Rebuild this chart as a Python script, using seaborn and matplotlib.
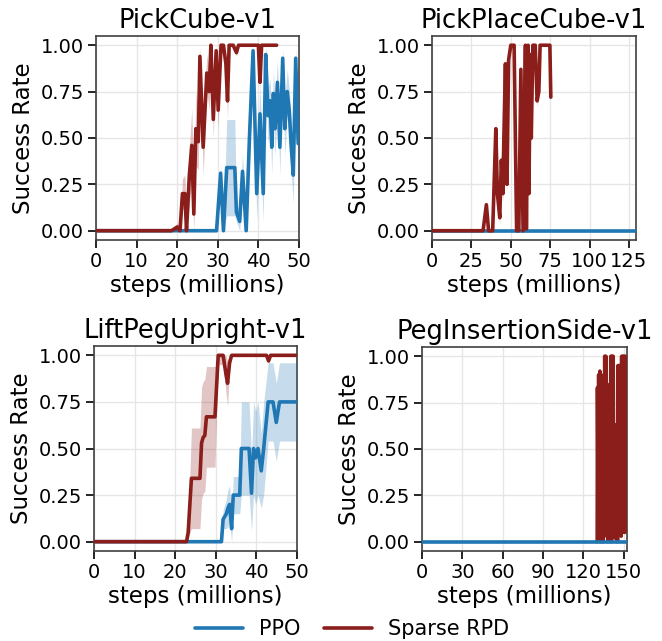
import numpy as np
import matplotlib
matplotlib.use("Agg")
import matplotlib.pyplot as plt
from matplotlib.lines import Line2D
import seaborn as sns

# cores das curvas
COR_PPO = "#1f77b4"
COR_RPD = "#8b1e1a"

titulos = ["PickCube-v1", "PickPlaceCube-v1", "LiftPegUpright-v1", "PegInsertionSide-v1"]
limites_x = [50, 129.5, 50, 152.4]
ticks_x = [[0, 10, 20, 30, 40, 50],
           [0, 25, 50, 75, 100, 125],
           [0, 10, 20, 30, 40, 50],
           [0, 30, 60, 90, 120, 150]]
ticks_y = [0.0, 0.25, 0.5, 0.75, 1.0]

# ---- PickCube-v1 ----
pick_rpd_x = [0, 18.6, 20.0, 20.7, 21.3, 21.9, 22.3, 23.0, 23.6, 24.1, 24.6, 25.2, 25.6, 26.4,
              27.3, 27.9, 28.3, 28.9, 29.6, 30.1, 30.8, 31.4, 32.0, 32.4, 32.8, 33.8, 34.6,
              35.1, 40.0, 40.4, 40.8, 44.5]
pick_rpd_y = [0, 0, 0.02, 0.0, 0.2, 0.2, 0.0, 0.3, 0.46, 0.09, 0.55, 0.48, 0.94, 0.45,
              0.85, 0.75, 1.0, 0.6, 0.97, 0.65, 1.0, 1.0, 0.9, 0.7, 1.0, 1.0, 0.96,
              1.0, 1.0, 0.8, 1.0, 1.0]
pick_rpd_hw = [0, 0, 0.02, 0.02, 0.08, 0.1, 0.1, 0.15, 0.2, 0.15, 0.2, 0.15, 0.05, 0.15,
               0.1, 0.1, 0, 0.1, 0.05, 0.1, 0, 0, 0.05, 0.1, 0, 0, 0.02,
               0, 0, 0.05, 0, 0]
pick_ppo_x = [0, 29.7, 30.7, 31.4, 32.2, 34.2, 34.6, 35.4, 36.1, 37.0, 37.8, 38.7, 39.6, 40.4,
              41.2, 41.8, 42.4, 42.9, 43.3, 43.7, 44.1, 44.7, 45.3, 46.0, 46.5, 47.1, 47.6,
              48.1, 48.6, 49.2, 49.8, 50]
pick_ppo_y = [0, 0, 0.31, 0.0, 0.34, 0.34, 0.1, 0.05, 0.32, 0.0, 0.5, 0.97, 0.2, 0.63,
              0.2, 0.95, 0.62, 0.7, 0.45, 0.74, 0.55, 0.8, 0.45, 0.93, 0.55, 0.75, 0.65,
              0.45, 0.3, 0.93, 0.47, 0.47]
pick_ppo_hw = [0, 0, 0.05, 0.02, 0.26, 0.26, 0.05, 0.05, 0.1, 0.02, 0.15, 0.05, 0.15, 0.15,
               0.15, 0.05, 0.15, 0.12, 0.15, 0.12, 0.15, 0.12, 0.15, 0.05, 0.15, 0.12, 0.12,
               0.15, 0.15, 0.05, 0.15, 0.15]

# ---- PickPlaceCube-v1 ----
place_rpd_x = [0, 32.4, 34.5, 35.9, 38.5, 40.5, 41.5, 43.0, 44.0, 45.0, 45.6, 46.6, 47.6, 48.6,
               50.0, 52.1, 53.7, 55.1, 56.4, 57.8, 59.3, 59.9, 61.0, 61.5, 62.4, 63.0, 64.0,
               65.5, 66.7, 67.8, 68.6, 74.8, 75.4]
place_rpd_y = [0, 0, 0.14, 0, 0, 0.55, 0.2, 0.07, 0.38, 0.2, 0.5, 0.9, 0.25, 0.92,
               1.0, 1.0, 0, 0, 0.87, 0, 1.0, 0.01, 1.0, 0.2, 0.95, 0.5, 1.0,
               1.0, 0.7, 0.75, 1.0, 1.0, 0.72]
place_rpd_hw = [0, 0, 0.02, 0, 0, 0.05, 0.05, 0.03, 0.05, 0.05, 0.05, 0.03, 0.05, 0.03,
                0, 0, 0, 0, 0.03, 0, 0, 0, 0, 0.03, 0.02, 0.03, 0,
                0, 0.03, 0.03, 0, 0, 0.02]
place_ppo_x = [0, 129.5]
place_ppo_y = [0, 0]
place_ppo_hw = [0, 0]

# ---- LiftPegUpright-v1 ----
lift_rpd_x = [0, 22.8, 23.2, 24.0, 26.1, 26.5, 26.9, 27.3, 27.7, 29.8, 30.6, 31.8, 32.5,
              32.9, 33.4, 33.9, 42.5, 43.0, 43.5, 50]
lift_rpd_y = [0, 0, 0.05, 0.34, 0.34, 0.53, 0.56, 0.57, 0.67, 0.67, 1.0, 1.0, 0.9,
              0.85, 0.96, 1.0, 1.0, 0.97, 1.0, 1.0]
lift_rpd_hw = [0, 0, 0.03, 0.27, 0.27, 0.3, 0.3, 0.3, 0.27, 0.27, 0.05, 0.05, 0.1,
               0.12, 0.04, 0, 0, 0.02, 0, 0]
lift_ppo_x = [0, 31.4, 31.8, 32.6, 33.0, 33.4, 33.9, 34.3, 35.9, 36.3, 38.2, 38.8, 39.3,
              39.8, 40.4, 41.2, 41.8, 42.9, 44.1, 44.9, 45.7, 50]
lift_ppo_y = [0, 0, 0.12, 0.15, 0.18, 0.2, 0.07, 0.25, 0.25, 0.5, 0.5, 0.26, 0.5,
              0.45, 0.5, 0.38, 0.5, 0.75, 0.75, 0.64, 0.75, 0.75]
lift_ppo_hw = [0, 0, 0.05, 0.08, 0.1, 0.1, 0.07, 0.1, 0.1, 0.25, 0.25, 0.2, 0.25,
               0.25, 0.25, 0.2, 0.25, 0.21, 0.21, 0.21, 0.21, 0.21]

# ---- PegInsertionSide-v1 ----
peg_rpd_x = [130.2, 130.4, 130.9, 131.3, 131.8, 132.2, 132.7, 133.1, 133.6, 134.0, 134.5,
             134.9, 135.4, 135.8, 136.3, 136.7, 137.2, 137.6, 138.1, 138.5, 139.0, 139.4,
             139.9, 140.3, 140.8, 141.2, 141.7, 142.1, 142.6, 143.0, 143.5, 143.9, 144.4,
             144.8, 145.3, 145.7, 146.2, 146.6, 147.1, 147.5, 148.0, 148.4, 148.9, 149.3,
             149.8, 150.2, 150.7, 151.1, 151.5]
peg_rpd_y = [0.0, 0.83, 0.1, 0.9, 0.05, 0.92, 0.0, 0.9, 0.02, 0.63, 0.0,
             0.63, 0.05, 1.0, 0.1, 1.0, 0.03, 0.85, 0.0, 0.78, 0.05, 0.8,
             0.1, 1.0, 0.0, 1.0, 0.05, 1.0, 0.2, 0.63, 0.02, 0.63, 0.08,
             0.62, 0.0, 0.95, 0.05, 0.95, 0.1, 0.9, 0.03, 1.0, 0.05, 1.0,
             0.1, 1.0, 0.05, 1.0, 0.98]
peg_rpd_hw = [0, 0.05, 0, 0.05, 0, 0.05, 0, 0.05, 0, 0.05, 0,
              0.05, 0, 0.03, 0, 0.03, 0, 0.05, 0, 0.05, 0, 0.05,
              0, 0.03, 0, 0.03, 0, 0.03, 0, 0.05, 0, 0.05, 0,
              0.05, 0, 0.04, 0, 0.04, 0, 0.05, 0, 0.03, 0, 0.03,
              0, 0.03, 0, 0.03, 0.02]
peg_ppo_x = [0, 152.4]
peg_ppo_y = [0, 0]
peg_ppo_hw = [0, 0]

curvas = [
    ((pick_ppo_x, pick_ppo_y, pick_ppo_hw), (pick_rpd_x, pick_rpd_y, pick_rpd_hw), False),
    ((place_ppo_x, place_ppo_y, place_ppo_hw), (place_rpd_x, place_rpd_y, place_rpd_hw), False),
    ((lift_ppo_x, lift_ppo_y, lift_ppo_hw), (lift_rpd_x, lift_rpd_y, lift_rpd_hw), False),
    ((peg_ppo_x, peg_ppo_y, peg_ppo_hw), (peg_rpd_x, peg_rpd_y, peg_rpd_hw), True),
]

sns.set_theme(style="ticks")
plt.rcParams["font.family"] = ["DejaVu Sans"]
plt.rcParams.update({
    "axes.edgecolor": "0.25",
    "axes.linewidth": 1.2,
    "axes.labelcolor": "black",
    "text.color": "black",
    "grid.color": "0.9",
    "grid.linewidth": 1.0,
    "xtick.major.size": 5.5,
    "ytick.major.size": 5.5,
    "xtick.major.width": 1.2,
    "ytick.major.width": 1.2,
    "xtick.color": "black",
    "ytick.color": "black",
})


def desenhar(ax, x, y, hw, cor, z):
    x = np.asarray(x, dtype=float)
    y = np.asarray(y, dtype=float)
    hw = np.asarray(hw, dtype=float)
    ax.fill_between(x, np.clip(y - hw, 0, 1), np.clip(y + hw, 0, 1),
                    color=cor, alpha=0.25, lw=0, zorder=z)
    sns.lineplot(x=x, y=y, color=cor, lw=2.6, ax=ax, zorder=z + 1)


fig = plt.figure(figsize=(6.62, 6.41), dpi=100)
posicoes = [
    [0.1450, 0.6256, 0.3066, 0.3183],
    [0.6526, 0.6256, 0.3082, 0.3183],
    [0.1420, 0.1404, 0.3066, 0.3198],
    [0.6375, 0.1404, 0.3097, 0.3183],
]

for i, (ppo, rpd, ppo_em_cima) in enumerate(curvas):
    ax = fig.add_axes(posicoes[i])
    ax.grid(True, zorder=0)
    z_ppo, z_rpd = (5, 3) if ppo_em_cima else (3, 5)
    desenhar(ax, *ppo, COR_PPO, z_ppo)
    desenhar(ax, *rpd, COR_RPD, z_rpd)
    ax.set_xlim(0, limites_x[i])
    ax.set_ylim(-0.05, 1.05)
    ax.set_xticks(ticks_x[i])
    ax.set_yticks(ticks_y)
    ax.set_yticklabels([f"{v:.2f}" for v in ticks_y])
    ax.tick_params(labelsize=14, pad=3)
    ax.set_title(titulos[i], fontsize=18.5, pad=6)
    ax.set_xlabel("steps (millions)", fontsize=16.5, labelpad=2)
    ax.set_ylabel("Success Rate", fontsize=16.5, labelpad=4)
    for s in ax.spines.values():
        s.set_visible(True)

handles = [Line2D([0], [0], color=COR_PPO, lw=2.6),
           Line2D([0], [0], color=COR_RPD, lw=2.6)]
fig.legend(handles, ["PPO", "Sparse RPD"], loc="center", bbox_to_anchor=(0.532, 0.018),
           ncol=2, frameon=False, fontsize=15, handlelength=2.3, columnspacing=1.1)

plt.savefig("out.png", dpi=100)
